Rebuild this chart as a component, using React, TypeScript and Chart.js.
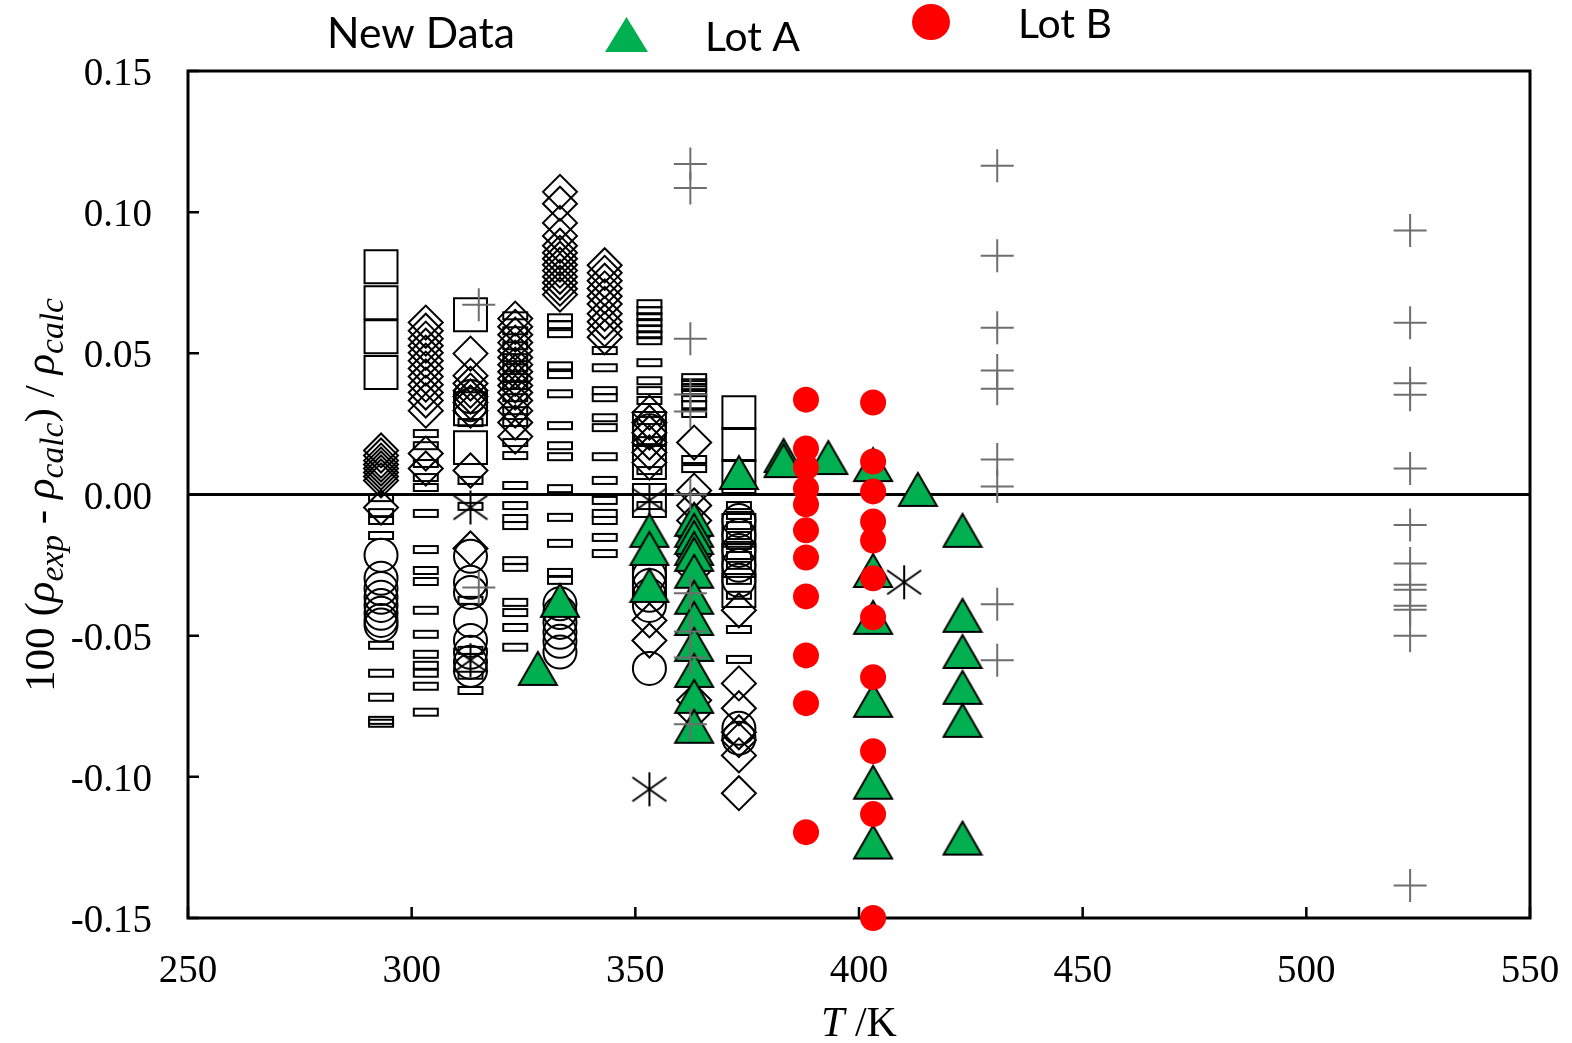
import React, { useEffect, useRef } from 'react';
import { Chart, registerables } from 'chart.js';

Chart.register(...registerables);

// ---------- axis ticks ----------
const xTickValues = [250, 300, 350, 400, 450, 500, 550];
const xTickLabels = ['250', '300', '350', '400', '450', '500', '550'];
const yTickValues = [0.15, 0.1, 0.05, 0, -0.05, -0.1, -0.15];
const yTickLabels = ['0.15', '0.10', '0.05', '0.00', '-0.05', '-0.10', '-0.15'];

// ---------- data: [T / K, deviations at that T] ----------
type Col = [number, number[]];

const lotB: Col[] = [
  [388.15, [0.0336, 0.0163, 0.0096, 0.0021, -0.0035, -0.0127, -0.0223, -0.0361, -0.057, -0.0739, -0.1196]],
  [403.15, [0.0326, 0.0117, 0.0011, -0.0096, -0.0163, -0.0297, -0.0435, -0.0647, -0.0909, -0.1132, -0.15]],
];

const lotA: Col[] = [
  [328.2, [-0.0616]],
  [333.15, [-0.0375]],
  [353.15, [-0.0127, -0.0191, -0.0322]],
  [363.15, [-0.0088, -0.0127, -0.0152, -0.0191, -0.0212, -0.0272, -0.0364, -0.0439, -0.0531, -0.0623, -0.0715, -0.0821]],
  [373.15, [0.0078]],
  [383.15, [0.0138, 0.012]],
  [393.15, [0.0131]],
  [403.15, [0.0106, -0.0269, -0.0435, -0.0729, -0.1019, -0.1231]],
  [413.15, [0.0018]],
  [423.15, [-0.0127, -0.0428, -0.0556, -0.0683, -0.08, -0.1217]],
];

const grayCrosses: Col[] = [
  [315.0, [0.0672, -0.0329]],
  [362.3, [0.1171, 0.1086, 0.0552, 0.0354, 0.0294, 0.0, -0.035, -0.0485, -0.0577, -0.0814]],
  [430.9, [0.1164, 0.0846, 0.0591, 0.0439, 0.0375, 0.0124, 0.0028, -0.0389, -0.0587]],
  [523.2, [0.0935, 0.0608, 0.0394, 0.0353, 0.0092, -0.0108, -0.0244, -0.032, -0.0337, -0.0394, -0.0408, -0.05, -0.1385]],
];

const asterisks: Col[] = [
  [313.15, [-0.0046, -0.0587]],
  [353.15, [-0.0021, -0.1044]],
  [410.1, [-0.0311]],
];

const squares: Col[] = [
  [293.15, [0.0807, 0.0679, 0.0559, 0.0432]],
  [313.15, [0.0637, 0.0304, 0.0166]],
  [353.15, [0.0234, 0.0113, -0.0021, -0.03]],
  [373.15, [0.029, 0.0177, 0.0064, -0.0127, -0.0234, -0.034]],
];

const diamonds: Col[] = [
  [293.15, [0.0156, 0.0138, 0.012, 0.0106, 0.0092, 0.0078, 0.0064, 0.005, -0.0046]],
  [303.15, [0.0609, 0.058, 0.0552, 0.0527, 0.0502, 0.0474, 0.0446, 0.0418, 0.0389, 0.0361, 0.0333, 0.0297, 0.0145, 0.0092]],
  [313.15, [0.0499, 0.0421, 0.0393, 0.0368, 0.0347, 0.0326, 0.0297, 0.0085, -0.0191]],
  [323.15, [0.0623, 0.0594, 0.0566, 0.0538, 0.051, 0.0485, 0.046, 0.0435, 0.041, 0.0386, 0.0361, 0.0333, 0.0297, 0.0255, 0.0205]],
  [333.15, [0.1072, 0.103, 0.0962, 0.0916, 0.0881, 0.0856, 0.0835, 0.0814, 0.0793, 0.0771, 0.075, 0.0729, 0.0708]],
  [343.15, [0.0812, 0.0785, 0.0757, 0.073, 0.0702, 0.0675, 0.064, 0.0612, 0.0585, 0.0557]],
  [353.15, [0.029, 0.0255, 0.0219, 0.0184, 0.0149, 0.0113, -0.0446, -0.0517]],
  [363.15, [0.0184, 0.0014, -0.0039, -0.0092, -0.0145, -0.0216, -0.0269, -0.0729, -0.0771]],
  [373.15, [-0.041, -0.0669, -0.0757, -0.0842, -0.087, -0.0924, -0.1058]],
];

const circles: Col[] = [
  [293.15, [-0.0215, -0.0297, -0.0333, -0.0364, -0.0393, -0.0421, -0.0446, -0.0462]],
  [313.15, [0.0347, 0.0318, -0.0219, -0.0311, -0.0347, -0.0446, -0.0517, -0.0559, -0.0594, -0.0623]],
  [333.15, [-0.0387, -0.0418, -0.0453, -0.0488, -0.052, -0.0558]],
  [353.15, [0.0226, -0.0287, -0.0322, -0.0357, -0.0393, -0.0616]],
  [373.15, [-0.0092, -0.0145, -0.0198, -0.0251, -0.0304, -0.0828, -0.0863]],
];

const flatRects: Col[] = [
  [293.15, [-0.0011, -0.0064, -0.0092, -0.0145, -0.0534, -0.0633, -0.0718, -0.08, -0.081]],
  [303.15, [0.0216, 0.0173, 0.011, 0.006, 0.0025, -0.0067, -0.0195, -0.0269, -0.0308, -0.041, -0.0495, -0.0566, -0.0605, -0.0633, -0.0679, -0.0771]],
  [313.15, [0.0255, 0.005, -0.0042, -0.0375, -0.0552, -0.064, -0.0694]],
  [323.15, [0.0633, 0.058, 0.0527, 0.0485, 0.0449, 0.0414, 0.0386, 0.0343, 0.0297, 0.0255, 0.0184, 0.0138, 0.0032, -0.0039, -0.0085, -0.011, -0.0234, -0.0258, -0.0382, -0.0418, -0.0471, -0.0541]],
  [333.15, [0.0626, 0.0602, 0.057, 0.0456, 0.0425, 0.0357, 0.0244, 0.0173, 0.0134, 0.0021, -0.0081, -0.0173, -0.0276, -0.0304]],
  [343.15, [0.051, 0.0449, 0.0368, 0.0343, 0.0272, 0.0237, 0.0134, 0.005, -0.0021, -0.0067, -0.0092, -0.0152, -0.0209]],
  [353.15, [0.0676, 0.0651, 0.063, 0.0609, 0.0587, 0.0566, 0.0545, 0.0467, 0.0403, 0.0368, 0.0333, 0.0262, 0.0191, 0.0085, -0.0039]],
  [363.15, [0.0414, 0.0396, 0.0379, 0.0361, 0.0343, 0.0318, 0.0287, 0.0124, 0.0092, -0.0127, -0.0234]],
  [373.15, [-0.0039, -0.0074, -0.011, -0.0145, -0.018, -0.0216, -0.0251, -0.0304, -0.0357, -0.0478, -0.0584]],
];

// ---------- styling ----------
const GREEN = '#00B050';
const RED = '#FF0000';
const GRAY = '#6E6E6E';
const SERIF = '"Liberation Serif", "Times New Roman", serif';
const SANS = 'Lato, "Open Sans", sans-serif';

const toPoints = (cols: Col[]) => cols.flatMap(([t, vs]) => vs.map((v) => ({ x: t, y: v })));

function makeCanvas(w: number, h: number, draw: (c: CanvasRenderingContext2D) => void) {
  const cv = document.createElement('canvas');
  cv.width = w;
  cv.height = h;
  const c = cv.getContext('2d')!;
  draw(c);
  return cv;
}

function fitFont(ctx: CanvasRenderingContext2D, text: string, family: string, targetW: number) {
  ctx.font = `100px ${family}`;
  const w = ctx.measureText(text).width;
  return (100 * targetW) / w;
}

type Part = { t: string; it?: boolean; sub?: boolean };

// draws rich text centred on cx; if targetW is given, the run is stretched along its direction to that length
function drawRich(
  ctx: CanvasRenderingContext2D,
  parts: Part[],
  size: number,
  cx: number,
  baseY: number,
  subScale: number,
  targetW?: number
) {
  const fontOf = (p: Part) => `${p.it ? 'italic ' : ''}${p.sub ? size * subScale : size}px ${SERIF}`;
  let total = 0;
  const widths = parts.map((p) => {
    ctx.font = fontOf(p);
    const w = ctx.measureText(p.t).width;
    total += w;
    return w;
  });
  ctx.save();
  ctx.translate(cx, baseY);
  if (targetW) ctx.scale(targetW / total, 1);
  let x = -total / 2;
  parts.forEach((p, i) => {
    ctx.font = fontOf(p);
    ctx.fillText(p.t, x, p.sub ? size * 0.22 : 0);
    x += widths[i];
  });
  ctx.restore();
}

const decorPlugin = {
  id: 'decor',
  beforeDatasetsDraw(chart: any) {
    const { ctx, chartArea: a, scales } = chart;
    const xs = scales.x;
    const ys = scales.y;
    ctx.save();
    ctx.strokeStyle = '#000';
    ctx.lineWidth = 3;
    ctx.strokeRect(a.left, a.top, a.right - a.left, a.bottom - a.top);
    const y0 = ys.getPixelForValue(0);
    ctx.beginPath();
    ctx.moveTo(a.left, y0);
    ctx.lineTo(a.right, y0);
    ctx.stroke();
    ctx.lineWidth = 2.5;
    ctx.beginPath();
    xTickValues.forEach((v) => {
      const px = xs.getPixelForValue(v);
      ctx.moveTo(px, a.bottom);
      ctx.lineTo(px, a.bottom - 11);
    });
    yTickValues.forEach((v) => {
      const py = ys.getPixelForValue(v);
      ctx.moveTo(a.left, py);
      ctx.lineTo(a.left + 11, py);
    });
    ctx.stroke();
    ctx.restore();
  },
  afterDraw(chart: any) {
    const { ctx, chartArea: a, scales } = chart;
    const xs = scales.x;
    const ys = scales.y;
    ctx.save();
    ctx.fillStyle = '#000';
    // tick labels
    ctx.font = `39px ${SERIF}`;
    ctx.textBaseline = 'alphabetic';
    ctx.textAlign = 'center';
    xTickValues.forEach((v, i) => {
      ctx.fillText(xTickLabels[i], xs.getPixelForValue(v), a.bottom + 64);
    });
    ctx.textAlign = 'right';
    yTickValues.forEach((v, i) => {
      ctx.fillText(yTickLabels[i], a.left - 36, ys.getPixelForValue(v) + 14);
    });
    // x title
    ctx.textAlign = 'left';
    drawRich(ctx, [{ t: 'T', it: true }, { t: ' /K' }], 42, (a.left + a.right) / 2, 1036, 1);
    // y title
    ctx.save();
    ctx.translate(54, 495);
    ctx.rotate(-Math.PI / 2);
    drawRich(
      ctx,
      [
        { t: '100 (' },
        { t: 'ρ', it: true },
        { t: 'exp', it: true, sub: true },
        { t: ' - ' },
        { t: 'ρ', it: true },
        { t: 'calc', it: true, sub: true },
        { t: ') / ' },
        { t: 'ρ', it: true },
        { t: 'calc', it: true, sub: true },
      ],
      42,
      0,
      0,
      0.78,
      394
    );
    ctx.restore();
    // legend
    const s1 = fitFont(ctx, 'New Data', SANS, 188);
    ctx.font = `${s1}px ${SANS}`;
    ctx.fillText('New Data', 327, 48);
    ctx.fillStyle = GREEN;
    ctx.beginPath();
    ctx.moveTo(605, 52);
    ctx.lineTo(626.5, 17);
    ctx.lineTo(648, 52);
    ctx.closePath();
    ctx.fill();
    ctx.fillStyle = '#000';
    const s2 = fitFont(ctx, 'Lot A', SANS, 95);
    ctx.font = `${s2}px ${SANS}`;
    ctx.fillText('Lot A', 705, 51);
    ctx.fillStyle = RED;
    ctx.beginPath();
    ctx.ellipse(931, 22, 19, 18, 0, 0, Math.PI * 2);
    ctx.fill();
    ctx.fillStyle = '#000';
    const s3 = fitFont(ctx, 'Lot B', SANS, 94);
    ctx.font = `${s3}px ${SANS}`;
    ctx.fillText('Lot B', 1018, 38);
    ctx.restore();
  },
};

export default function App() {
  const ref = useRef<HTMLCanvasElement | null>(null);

  useEffect(() => {
    if (!ref.current) return;

    const triangle = makeCanvas(42, 37, (c) => {
      c.beginPath();
      c.moveTo(2, 35);
      c.lineTo(21, 2);
      c.lineTo(40, 35);
      c.closePath();
      c.fillStyle = GREEN;
      c.fill();
      c.lineWidth = 2;
      c.strokeStyle = '#000';
      c.stroke();
    });
    const flatRect = makeCanvas(28, 11, (c) => {
      c.lineWidth = 2;
      c.strokeStyle = '#000';
      c.strokeRect(2, 2, 24, 7);
    });
    const asterisk = makeCanvas(38, 36, (c) => {
      c.lineWidth = 2;
      c.strokeStyle = '#000';
      c.beginPath();
      c.moveTo(19, 1);
      c.lineTo(19, 35);
      c.moveTo(2, 6);
      c.lineTo(36, 30);
      c.moveTo(36, 6);
      c.lineTo(2, 30);
      c.stroke();
    });

    const chart = new Chart(ref.current, {
      type: 'scatter',
      data: {
        datasets: [
          {
            label: 'Lot B',
            data: toPoints(lotB),
            pointStyle: 'circle',
            pointRadius: 13,
            backgroundColor: RED,
            borderColor: RED,
            borderWidth: 0,
            clip: false,
          },
          {
            label: 'Lit. cross',
            data: toPoints(grayCrosses),
            pointStyle: 'cross',
            pointRadius: 16.5,
            borderColor: GRAY,
            backgroundColor: GRAY,
            borderWidth: 2,
            clip: false,
          },
          {
            label: 'Lot A',
            data: toPoints(lotA),
            pointStyle: triangle,
            pointRadius: 18,
            clip: false,
          },
          {
            label: 'Lit. asterisk',
            data: toPoints(asterisks),
            pointStyle: asterisk,
            pointRadius: 17,
            clip: false,
          },
          {
            label: 'Lit. square',
            data: toPoints(squares),
            pointStyle: 'rect',
            pointRadius: 23.3,
            borderColor: '#000',
            backgroundColor: 'rgba(0,0,0,0)',
            borderWidth: 2,
            clip: false,
          },
          {
            label: 'Lit. diamond',
            data: toPoints(diamonds),
            pointStyle: 'rectRot',
            pointRadius: 17,
            borderColor: '#000',
            backgroundColor: 'rgba(0,0,0,0)',
            borderWidth: 2,
            clip: false,
          },
          {
            label: 'Lit. circle',
            data: toPoints(circles),
            pointStyle: 'circle',
            pointRadius: 16.5,
            borderColor: '#000',
            backgroundColor: 'rgba(0,0,0,0)',
            borderWidth: 2,
            clip: false,
          },
          {
            label: 'Lit. dash',
            data: toPoints(flatRects),
            pointStyle: flatRect,
            pointRadius: 12,
            clip: false,
          },
        ],
      },
      options: {
        animation: false,
        responsive: false,
        devicePixelRatio: 1,
        events: [],
        layout: { padding: { left: 188, right: 42, top: 71, bottom: 125 } },
        plugins: {
          legend: { display: false },
          tooltip: { enabled: false },
          title: { display: false },
        },
        scales: {
          x: { type: 'linear', min: 250, max: 550, display: false },
          y: { type: 'linear', min: -0.15, max: 0.15, display: false },
        },
      },
      plugins: [decorPlugin],
    } as any);

    return () => chart.destroy();
  }, []);

  return (
    <div style={{ position: 'absolute', left: 0, top: 0, width: 1572, height: 1043, background: '#fff' }}>
      <canvas ref={ref} width={1572} height={1043} style={{ display: 'block' }} />
    </div>
  );
}
